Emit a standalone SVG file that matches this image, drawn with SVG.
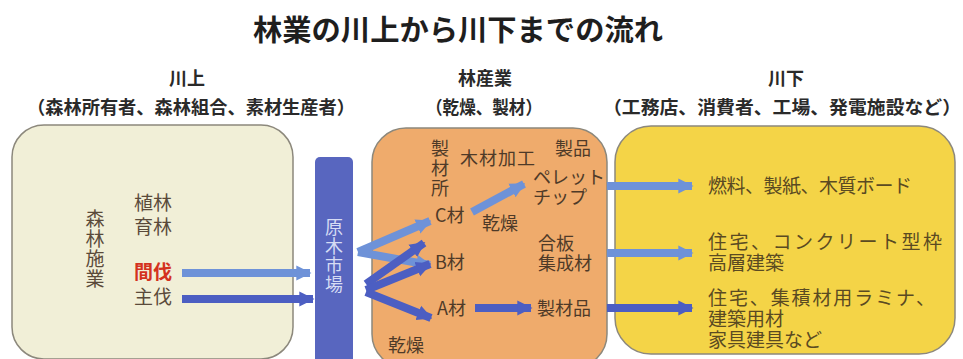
<svg xmlns="http://www.w3.org/2000/svg" width="963" height="359" viewBox="0 0 963 359">
<style>
text{font-family:"Noto Sans CJK JP","Noto Sans CJK SC",sans-serif;}
.ttl{font-size:29px;font-weight:700;fill:#1e1e1e;}
.hd{font-size:18px;font-weight:700;fill:#2a2a2a;}
.lt{font-size:19px;fill:#5a4a3a;}
.ot{font-size:18px;fill:#4e3a28;}
.yt{font-size:19px;fill:#5a4a22;}
.mk{font-size:18px;fill:#d6dcf4;}
.vt{writing-mode:vertical-rl;}
.box{stroke:#8c887c;stroke-width:1.5;}
.lt-a{stroke:#6e92d8;stroke-width:8;fill:none;}
.dk-a{stroke:#4c5ec2;stroke-width:8;fill:none;}
</style>
<defs>
<marker id="hl" viewBox="0 0 10 10" refX="9" refY="5" markerWidth="1.9" markerHeight="2.1" orient="auto" markerUnits="strokeWidth">
<path d="M0,0 L10,5 L0,10 Z" fill="#6e92d8"/>
</marker>
<marker id="hd" viewBox="0 0 10 10" refX="9" refY="5" markerWidth="1.9" markerHeight="2.1" orient="auto" markerUnits="strokeWidth">
<path d="M0,0 L10,5 L0,10 Z" fill="#4c5ec2"/>
</marker>
</defs>
<rect width="963" height="359" fill="#ffffff"/>
<text class="ttl" x="458" y="41" text-anchor="middle" textLength="410" lengthAdjust="spacingAndGlyphs">林業の川上から川下までの流れ</text>

<g id="upstream">
<text class="hd" x="187" y="85" text-anchor="middle">川上</text>
<text class="hd" x="191" y="114" text-anchor="middle" textLength="328" lengthAdjust="spacingAndGlyphs">（森林所有者、森林組合、素材生産者）</text>
<rect class="box" x="12" y="125" width="281" height="234" rx="32" fill="#f1efd7"/>
<text class="lt vt" x="95" y="209" font-size="18" letter-spacing="1">森林施業</text>
<text class="lt" x="134" y="210">植林</text>
<text class="lt" x="134" y="234">育林</text>
<text class="lt" x="134" y="279" font-weight="700" style="fill:#d4321e">間伐</text>
<text class="lt" x="134" y="304">主伐</text>
</g>

<g id="market">
<rect x="315" y="157" width="38" height="210" rx="5" fill="#5866bf"/>
<text class="mk vt" x="334" y="218" letter-spacing="1">原木市場</text>
</g>

<g id="industry">
<text class="hd" x="485" y="85" text-anchor="middle">林産業</text>
<text class="hd" x="484" y="114" text-anchor="middle" textLength="116" lengthAdjust="spacingAndGlyphs">（乾燥、製材）</text>
<rect class="box" x="372" y="128" width="235" height="240" rx="34" fill="#efab6c"/>
<text class="ot vt" x="440" y="139" font-size="17" letter-spacing="2">製材所</text>
<text class="ot" x="460" y="165" textLength="75" font-size="19">木材加工</text>
<text class="ot" x="555" y="155">製品</text>
<text class="ot" x="533" y="184" textLength="72">ペレット</text>
<text class="ot" x="533" y="204">チップ</text>
<text class="ot" x="435" y="222">C材</text>
<text class="ot" x="482" y="230">乾燥</text>
<text class="ot" x="538" y="250" font-size="19">合板</text>
<text class="ot" x="538" y="270" font-size="19">集成材</text>
<text class="ot" x="435" y="269">B材</text>
<text class="ot" x="437" y="315">A材</text>
<text class="ot" x="537" y="315" font-size="19">製材品</text>
<text class="ot" x="388" y="352">乾燥</text>
</g>

<g id="downstream">
<text class="hd" x="786" y="85" text-anchor="middle">川下</text>
<text class="hd" x="782" y="114" text-anchor="middle" textLength="358" lengthAdjust="spacingAndGlyphs">（工務店、消費者、工場、発電施設など）</text>
<rect class="box" x="615" y="126" width="340" height="228" rx="36" fill="#f4d447"/>
<text class="yt" x="708" y="193" textLength="204">燃料、製紙、木質ボード</text>
<text class="yt" x="708" y="249" textLength="234">住宅、コンクリート型枠</text>
<text class="yt" x="708" y="270">高層建築</text>
<text class="yt" x="708" y="305" textLength="227">住宅、集積材用ラミナ、</text>
<text class="yt" x="708" y="326">建築用材</text>
<text class="yt" x="708" y="347">家具建具など</text>
</g>

<g id="connectors">
<line class="lt-a" x1="182" y1="273" x2="310" y2="273" marker-end="url(#hl)"/>
<line class="dk-a" x1="182" y1="299" x2="313" y2="299" marker-end="url(#hd)"/>
<line class="lt-a" x1="358" y1="252" x2="430" y2="221" marker-end="url(#hl)"/>
<line class="lt-a" x1="358" y1="252" x2="430" y2="265" marker-end="url(#hl)"/>
<line class="dk-a" x1="366" y1="284" x2="424" y2="243" marker-end="url(#hd)"/>
<line class="dk-a" x1="366" y1="290" x2="430" y2="264" marker-end="url(#hd)"/>
<line class="dk-a" x1="366" y1="292" x2="431" y2="318" marker-end="url(#hd)"/>
<line class="lt-a" x1="472" y1="212" x2="524" y2="184" marker-end="url(#hl)"/>
<line class="dk-a" x1="475" y1="308" x2="531" y2="308" stroke-width="10" marker-end="url(#hd)"/>
<line class="lt-a" x1="607" y1="186" x2="692" y2="186" marker-end="url(#hl)"/>
<line class="lt-a" x1="607" y1="253" x2="692" y2="253" stroke="#5f7ecc" marker-end="url(#hl)"/>
<line class="dk-a" x1="607" y1="308" x2="692" y2="308" marker-end="url(#hd)"/>
</g>
</svg>
